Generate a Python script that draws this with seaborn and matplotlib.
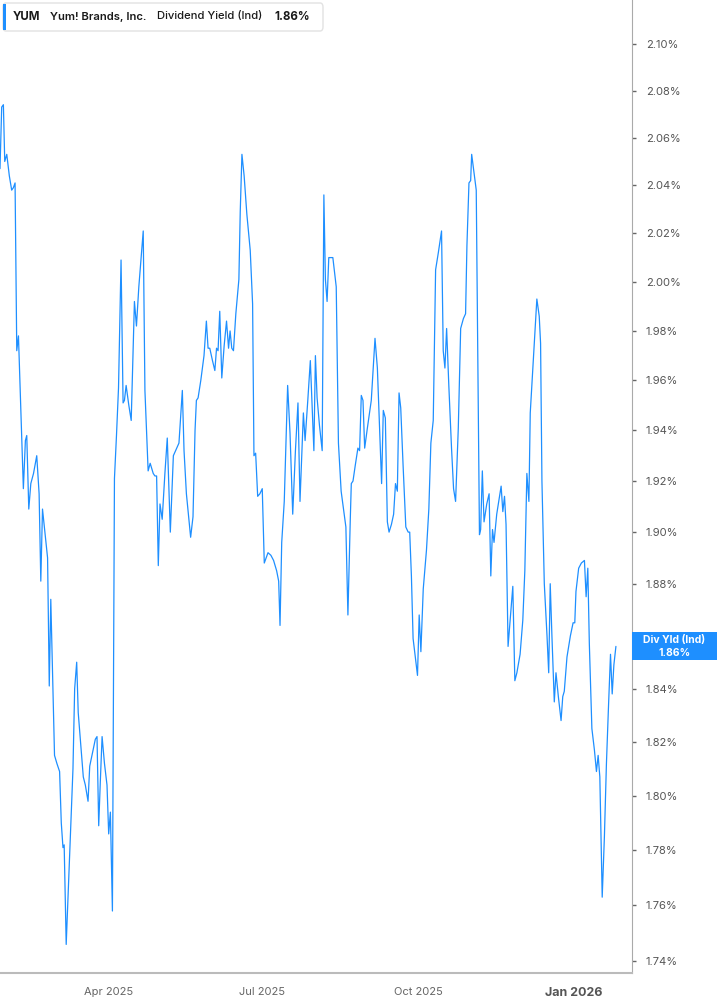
import matplotlib
matplotlib.use("Agg")
import matplotlib.pyplot as plt
from matplotlib.patches import Rectangle, FancyBboxPatch
from matplotlib.ticker import FixedLocator, FuncFormatter, NullLocator
import pandas as pd
import seaborn as sns

# YUM dividend yield, daily closes (days after 2025-01-27)
day_offsets = [
    0, 1, 2, 2.8, 4, 5.5, 6.9, 7.9, 8.9, 9.9, 10.9, 13.8, 15, 15.8, 17, 18.2, 19.8, 21.7, 23.1, 24.1,
    25.1, 26.7, 28.1, 29.1, 30, 32.2, 33.6, 35.2, 36.2, 37.2, 37.9, 39.1, 40.5, 41.9, 43.1, 44.1, 45.3, 46.2, 47.8, 49.2,
    50.4, 52, 53, 54.3, 56.3, 57.3, 58.3, 59.3, 60.3, 61.7, 63.2, 64.2, 65.2, 66.4, 67.6, 68.8, 70, 71.5, 72.7, 73.5,
    74.5, 76.1, 77.5, 79.4, 80.6, 82, 83, 84.6, 85.6, 87.5, 88.7, 90.5, 91.5, 92.5, 93.5, 94.5,
    95.8, 97.4, 98.8, 100.6, 102.4, 103.7, 105.7, 107.7, 108.7, 110.1, 112.6, 114, 115.2, 116, 117, 118.6, 120.5, 121.9, 122.9, 123.9,
    125.5, 126.9, 127.9, 128.8, 129.8, 131, 132.4, 133.8, 135, 135.9, 136.9, 137.9, 139.3, 141.1, 141.9, 142.9, 144.2, 145.8, 147.8, 149.2,
    150, 151, 152.2, 153.5, 154.9, 156.1, 158.3, 160, 161.6, 163.4, 164.6, 165.4, 166.4, 167.9, 169.9, 171.3, 172.9, 174.5, 176, 177.2,
    179.2, 180.2, 181.8, 183.3, 185.4, 186.3,
    187.3, 188.7, 190.3, 191.3, 192.2, 193.2, 194.2, 196.6, 198.6, 199.9, 201.5, 203.1, 204.3, 205.5, 206.9, 207.5, 208.5, 209.8, 211.4, 212.4,
    213.4, 214.4, 215.4, 217, 219.3, 221.5, 222.9, 224.2, 225.4, 226.4, 227.6, 228.8, 229.8, 231.2, 232.5, 233.6, 234.7, 235.7, 236.7, 238.1,
    239.7, 241.1, 242, 243, 244, 246.6, 247.6, 248.6, 250, 251.9, 253.3, 254.5, 255.9, 257.3, 258.9, 260.8, 261.8, 262.8, 263.8, 265.1,
    266.7, 267.9, 269.1, 270.7, 272.1, 273.7, 275, 275.8, 277, 278, 278.6,
    281.3, 283.2, 283.9, 284.9, 285.9, 287.5, 288.9, 289.9, 290.9, 291.8, 293.4, 294.8, 296, 297, 298, 298.9, 300.1, 301.3, 302.9, 304.1,
    305.3, 307.2, 308.8, 310, 311.2, 312.4, 313.2, 314.8, 317.1, 318.5, 319.3, 320.1, 321.5, 323.1, 324.1, 325, 326, 327.4, 328.4, 329.8,
    331.4, 332.4, 333.3, 334.9, 336.9, 338.5, 339.5, 340.2, 341.8, 343.4, 345.2, 346.2, 347.2, 348.1, 349.6, 351.1, 352.3, 353.3, 354.3, 355.7,
    357, 358.2, 359.4, 360.6, 361.6, 362.6, 363.8,
]
div_yield = [
    2.047, 2.073, 2.074, 2.050, 2.053, 2.044, 2.038, 2.039, 2.041, 1.972, 1.978, 1.917, 1.936, 1.938, 1.909, 1.919, 1.923, 1.930, 1.915, 1.881,
    1.909, 1.899, 1.890, 1.841, 1.874, 1.815, 1.812, 1.809, 1.790, 1.781, 1.782, 1.746, 1.768, 1.790, 1.810, 1.840, 1.850, 1.831, 1.818, 1.807,
    1.804, 1.798, 1.811, 1.815, 1.821, 1.822, 1.789, 1.806, 1.822, 1.812, 1.804, 1.786, 1.794, 1.758, 1.921, 1.938, 1.957, 2.009, 1.951, 1.952,
    1.958, 1.950, 1.944, 1.992, 1.982, 1.998, 2.007, 2.021, 1.956, 1.924, 1.927, 1.923, 1.922, 1.922, 1.887, 1.911,
    1.905, 1.923, 1.937, 1.900, 1.930, 1.932, 1.935, 1.956, 1.932, 1.915, 1.898, 1.906, 1.940, 1.952, 1.953, 1.960, 1.970, 1.984, 1.973, 1.973,
    1.968, 1.964, 1.973, 1.972, 1.988, 1.961, 1.974, 1.984, 1.973, 1.980, 1.973, 1.972, 1.987, 2.001, 2.029, 2.053, 2.044, 2.028, 2.013, 1.991,
    1.930, 1.931, 1.914, 1.915, 1.917, 1.888, 1.892, 1.891, 1.889, 1.885, 1.881, 1.864, 1.896, 1.912, 1.958, 1.939, 1.907, 1.932, 1.951, 1.912,
    1.947, 1.936, 1.952, 1.968, 1.932, 1.970,
    1.953, 1.942, 1.932, 2.036, 2.001, 1.992, 2.010, 2.010, 1.998, 1.935, 1.916, 1.908, 1.902, 1.868, 1.905, 1.919, 1.920, 1.926, 1.933, 1.932,
    1.954, 1.952, 1.933, 1.941, 1.952, 1.977, 1.965, 1.941, 1.919, 1.948, 1.945, 1.904, 1.900, 1.903, 1.907, 1.919, 1.916, 1.955, 1.949, 1.926,
    1.902, 1.900, 1.900, 1.883, 1.859, 1.845, 1.868, 1.854, 1.878, 1.893, 1.909, 1.935, 1.944, 2.005, 2.012, 2.021, 1.972, 1.965, 1.981, 1.958,
    1.933, 1.917, 1.912, 1.941, 1.981, 1.985, 1.987, 2.015, 2.041, 2.042, 2.053,
    2.038, 1.899, 1.901, 1.924, 1.904, 1.911, 1.915, 1.883, 1.901, 1.896, 1.907, 1.913, 1.918, 1.908, 1.914, 1.903, 1.856, 1.866, 1.879, 1.843,
    1.846, 1.853, 1.866, 1.885, 1.923, 1.912, 1.947, 1.966, 1.993, 1.986, 1.975, 1.920, 1.880, 1.860, 1.846, 1.880, 1.860, 1.835, 1.846, 1.837,
    1.828, 1.837, 1.839, 1.852, 1.860, 1.865, 1.865, 1.877, 1.886, 1.888, 1.889, 1.875, 1.886, 1.857, 1.825, 1.817, 1.809, 1.815, 1.807, 1.763,
    1.785, 1.812, 1.833, 1.853, 1.838, 1.849, 1.856,
]

y_ticks = [1.74, 1.76, 1.78, 1.80, 1.82, 1.84, 1.86, 1.88, 1.90, 1.92, 1.94, 1.96, 1.98, 2.00, 2.02, 2.04, 2.06, 2.08, 2.10]
x_tick_dates = ["2025-04-01", "2025-07-01", "2025-10-01", "2026-01-01"]
x_tick_labels = ["Apr 2025", "Jul 2025", "Oct 2025", "Jan 2026"]

ticker = "YUM"
company = "Yum! Brands, Inc."
metric = "Dividend Yield (Ind)"
tag_name = "Div Yld (Ind)"
current = "1.86%"

LINE = "#1e8fff"
W, H = 717, 1005

sns.set_style("white")
plt.rcParams["font.family"] = ["Inter", "DejaVu Sans"]

start = pd.Timestamp("2025-01-27")
df = pd.DataFrame({
    "date": start + pd.to_timedelta(day_offsets, unit="D"),
    "yield": div_yield,
})

fig = plt.figure(figsize=(W / 100, H / 100), dpi=100)
ax = fig.add_axes([0, 1 - 973 / H, 632 / W, 973 / H])

sns.lineplot(data=df, x="date", y="yield", color=LINE, linewidth=0.9, ax=ax)

ax.set_yscale("log")
ax.set_ylim(1.7358, 2.119)
ax.set_xlim(start, start + pd.Timedelta(days=373.3))

ax.yaxis.set_major_locator(FixedLocator(y_ticks))
ax.yaxis.set_minor_locator(NullLocator())
ax.yaxis.set_major_formatter(FuncFormatter(lambda v, _: f"{v:.2f}%"))
ax.yaxis.tick_right()
ax.tick_params(axis="y", length=3, width=1, color="#666666", labelsize=8, labelcolor="#555555", pad=7)

ax.set_xticks(pd.to_datetime(x_tick_dates))
ax.set_xticklabels(x_tick_labels)
ax.tick_params(axis="x", length=5, width=1, color="#aaaaaa", labelsize=8, labelcolor="#666666", pad=5)
last_lbl = ax.get_xticklabels()[-1]
last_lbl.set_fontweight("bold")
last_lbl.set_fontsize(9)
last_lbl.set_color("#555555")

ax.set_xlabel("")
ax.set_ylabel("")
for side in ["top", "left"]:
    ax.spines[side].set_visible(False)
ax.spines["right"].set_color("#aaaaaa")
ax.spines["bottom"].set_color("#bbbbbb")
ax.spines["bottom"].set_linewidth(1.5)

# legend box top-left
fig.patches.append(FancyBboxPatch((3 / W, 1 - 31 / H), 320 / W, 28 / H,
                                  boxstyle="round,pad=0,rounding_size=0.004",
                                  transform=fig.transFigure, fc="white", ec="#e2e2e2", lw=1))
fig.patches.append(Rectangle((3 / W, 1 - 30 / H), 3 / W, 26 / H, transform=fig.transFigure,
                             fc=LINE, ec="none"))
ty = 1 - 16.5 / H
fig.text(13 / W, ty, ticker, fontsize=8.3, fontweight="bold", color="#1a1a1a", va="center")
fig.text(50 / W, ty, company, fontsize=8.1, fontweight="semibold", color="#1a1a1a", va="center")
fig.text(157 / W, ty, metric, fontsize=8.1, fontweight="medium", color="#1a1a1a", va="center")
fig.text(274 / W, ty, current, fontsize=8.3, fontweight="bold", color="#1a1a1a", va="center")

# value tag on the right axis at the last point
fig.canvas.draw()
last_x = df["date"].iloc[-1]
last_y = df["yield"].iloc[-1]
_, py = ax.transData.transform((matplotlib.dates.date2num(last_x), last_y))
fy = py / H
box_h = 28 / H

# the tick label under the tag is covered in the original, so hide it
tag_ticks = [lbl for v, lbl in zip(y_ticks, ax.get_yticklabels()) if abs(v - round(last_y, 2)) < 1e-9]
for lbl in tag_ticks:
    lbl.set_visible(False)

fig.patches.append(Rectangle((632 / W, fy - box_h / 2), 1 - 632 / W, box_h,
                             transform=fig.transFigure, fc=LINE, ec="none", zorder=5))
cx = (632 + W) / 2 / W
fig.text(cx, fy + 6.5 / H, tag_name, fontsize=7.5, fontweight="bold", color="white",
         ha="center", va="center", zorder=6)
fig.text(cx, fy - 6.5 / H, current, fontsize=7.5, fontweight="bold", color="white",
         ha="center", va="center", zorder=6)

fig.savefig("out.png", dpi=100)
